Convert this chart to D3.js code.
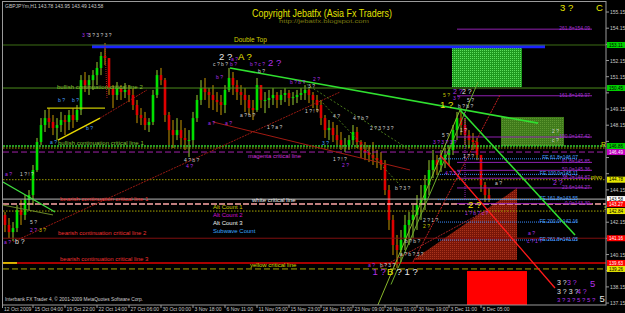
<!DOCTYPE html>
<html>
<head>
<meta charset="utf-8">
<title>GBPJPYm,H1</title>
<script src="https://d3js.org/d3.v7.min.js"></script>
<style>
  body { margin: 0; background: #000; }
  svg { display: block; font-family: "Liberation Sans", Arial, sans-serif; }
</style>
</head>
<body>
<div id="wrapper"></div>
<script>
// ---- price bars (one bar = ~8 hourly candles) ----
const barHigh = [142.78,142.41,142.16,143.21,143.52,143.83,144.14,145.69,147.36,148.59,
149.09,149.21,148.78,148.59,148.97,148.78,149.09,149.21,149.40,151.25,
151.44,151.25,151.56,152.06,152.68,153.23,152.30,150.63,150.82,150.63,
150.76,150.63,150.45,149.71,149.21,148.97,148.59,150.33,151.56,151.69,
151.07,148.97,148.47,148.59,148.47,147.98,147.85,148.97,150.02,150.94,
151.07,150.45,150.63,150.20,150.02,150.63,151.69,151.44,150.94,150.63,
150.45,150.02,149.71,151.07,150.63,150.20,150.33,150.45,150.20,150.33,
150.45,150.33,150.20,150.33,150.45,150.63,150.45,150.20,150.02,149.71,
148.78,148.47,148.35,148.16,147.73,147.36,147.54,148.16,148.04,147.23,
147.11,146.92,147.11,146.62,146.49,145.99,144.45,142.60,141.36,141.67,
142.60,142.78,143.21,143.83,144.45,145.07,145.99,146.62,146.31,146.62,
146.74,146.92,148.16,148.97,149.21,148.59,147.85,147.67,147.36,146.31,
144.64,144.26];
const barLow = [141.54,141.17,140.99,141.54,141.98,142.29,142.90,143.21,145.26,146.92,
147.73,147.98,147.54,147.23,147.73,147.54,147.85,147.98,148.35,148.78,
150.20,150.02,150.33,150.63,151.25,151.87,150.02,149.21,149.71,149.71,
149.83,149.58,149.09,148.28,148.16,147.85,147.73,148.16,149.83,150.63,
148.35,146.92,146.74,147.23,146.92,146.62,146.18,146.92,148.35,149.40,
149.71,149.21,149.09,148.97,148.78,148.90,150.20,150.02,149.71,149.40,
148.97,148.78,148.47,148.97,149.21,148.90,149.21,149.40,149.21,149.40,
149.58,149.34,149.40,149.52,149.71,149.71,149.52,149.21,148.97,148.16,
147.36,147.23,147.11,146.92,146.62,146.49,146.62,146.92,146.74,146.12,
145.99,145.87,145.69,145.50,145.38,143.83,141.67,140.12,139.32,139.69,
140.43,140.74,141.17,141.67,142.29,142.90,143.83,144.88,145.07,145.26,
145.50,145.69,146.31,147.23,147.54,146.92,146.74,146.62,145.99,144.02,
143.40,143.40];
const barClose = [141.98,141.54,141.79,142.90,142.60,143.52,143.83,145.38,147.11,148.16,
148.59,148.35,147.98,148.16,148.47,148.35,148.78,148.47,149.09,150.94,
150.63,150.94,151.25,151.69,152.43,152.30,150.45,150.02,150.45,150.20,
150.33,150.02,149.40,148.78,148.59,148.16,148.35,150.02,151.25,150.94,
148.78,147.85,147.54,147.85,147.36,147.23,147.23,148.59,149.71,150.45,
150.20,150.02,149.71,149.58,149.40,150.33,151.07,150.63,150.20,150.02,
149.71,149.21,149.09,150.63,149.71,149.71,149.83,150.02,149.71,150.02,
150.14,149.83,149.89,150.02,150.14,150.33,150.02,149.71,149.40,148.59,
147.85,147.98,147.54,147.23,146.92,146.92,147.23,147.73,147.11,146.62,
146.49,146.31,146.12,145.99,145.69,144.14,142.29,140.74,140.43,141.05,
141.98,142.29,142.60,143.21,143.52,144.45,145.38,145.99,145.69,145.99,
146.31,146.62,147.85,148.59,148.16,147.54,147.23,147.11,146.31,144.45,
143.83,143.58];
const firstOpen = 142.60;

// ---- axes ----
const timeLabels = ["12 Oct 2009","15 Oct 04:00","19 Oct 22:00","22 Oct 14:00","27 Oct 06:00","30 Oct 00:00",
  "3 Nov 18:00","6 Nov 11:00","11 Nov 05:00","15 Nov 23:00","18 Nov 15:00","23 Nov 09:00",
  "26 Nov 01:00","30 Nov 19:00","3 Dec 11:00","8 Dec 05:00"];
const timeTickBars = [-1,7,15,23,31,39,47,55,63,71,79,87,95,103,111,119];
const priceTicks = [155.15,154.15,153.15,152.15,151.15,150.15,149.15,148.15,147.15,146.15,
  145.15,144.15,143.15,142.15,141.15,140.15,139.15,138.15,137.15];

// ---- horizontal critical levels ----
const levelNames = ["Double Top","bullish continuation critical line 2","bullish continuation critical line 1",
  "magenta critical line","pivo","white critical line","bearish continuation critical line 1","S",
  "bearish continuation critical line 2","bearish continuation critical line 3","yellow critical line"];
const levelPrices = [153.11,150.45,146.86,146.49,144.78,143.58,143.27,142.84,141.16,139.63,139.26];
const resistancePrice = 146.74;
const doubleTopBand = [21.75, 135];

// ---- fibonacci ----
const fibRatios = ["261.8","161.8","100.0","61.8","50.0","38.2","23.6","0.0"];
const fibPrices = [154.09,149.97,147.42,145.85,145.36,144.87,144.27,143.30];
const fibSpan = [113, 146.75];
const feRatios = ["61.8","100.0","161.8","200.0","261.8"];
const fePrices = [146.07,145.11,143.55,142.16,141.05];
const feSpan = [108.25, 143.25];

// ---- zones ----
const greenZone = [111.75, 129.25, 152.99, 150.51];
const oliveZone = [124, 139.75, 148.66, 146.86];
const redZone = [115.5, 130.5, 139.13, 137.03];
const redTriangle = [[102, 139.81], [128, 144.26], [128, 139.81]];

// ---- trend lines [bar, price] ----
const greenTrendTop = [[56.25, 151.69], [133.25, 148.28]];
const greenTrendDown = [[113.75, 149.09], [142.5, 141.36]];
const fanLineA = [[96.5, 138.3], [118.25, 150.82]];
const fanLineB = [[93, 136.9], [113.75, 149.09]];
const redTrend = [[108.75, 146.31], [137.5, 138.08]];
const redDotLong = [[2, 140.93], [83.75, 150.20]];
const redChannel = [[52, 148.35], [101.25, 145.38]];
const yellowRise = [[13.25, 147.23], [23.75, 148.59]];
const redRise = [[23.75, 148.59], [35.5, 150.33]];
const yellowFlat = [[10.5, 149.21], [25, 149.21]];
const peakDrop = [[25, 153.11], [25.5, 149.83]];
const oliveDotA = [[73.75, 150.94], [101.25, 146.62]];
const oliveDotB = [[78.75, 149.71], [98.75, 144.45]];
const redDotUp = [[102, 139.69], [123.75, 150.02]];
const redDotLow = [[93.75, 139.32], [120.5, 142.9]];
const greenLeft = [[-0.5, 144.64], [12.5, 142.78]];
const oliveLeft = [[-0.5, 143.21], [12, 142.6]];
const purpleDrop = [[115, 149.09], [115, 143.52]];
const yellowStub = [[-0.5, 139.63], [3, 139.63]];

// ---- wave count labels [text, bar, price] ----
const whiteSmall = [["1 ? ! ?",3.75,145.0],["5 ?",6.25,142.04],["3 ? 3 ? 3 ?",20.75,153.6],["4 ? b ?",44.75,145.87],
  ["a ? b ?",58.75,148.66],["1 ? a ?",65.5,147.91],["1 ? ! ?",75,148.9],["4 ?",82,148.59],["4 ? b ?",87,148.47],
  ["2 ? 3 ? 3 ?",91.25,147.85],["1 ? ! ?",82,145.93],["c ? b ?",52,151.81],["b ?",63.25,151.38],
  ["3 ?",75.75,150.45],["5 ?",109.25,147.42],["1 ?",113.75,147.73],["1 ? ?",114.5,146.12],["b ? 3 ?",97.5,144.14],
  ["a ?",122.5,144.45],["2 ?",136.75,147.67],["c ?",136.75,147.11],["2 ? 1 ?",104.5,142.16],["b ? b ?",100,140.86],
  ["a ? b ? 3 ?",98.75,140.06],["b ? 3 ?",93.75,139.38],["5 ?",115.5,149.6],["b ? b ?",113.25,149.2]];
const purpleSmall = [["a ?",0,145.0],["2 ?",6.25,141.54],["a ?",-0.25,140.8],["3 ?",19.25,153.6],["4 ?",45.25,145.5],
  ["a ?",50.75,148.16],["a ?",55,148.16],["b ?",56.25,151.81],["b ? c ?",61.25,151.81],["b ?",52.75,151.0],
  ["b ? b ?",71.25,150.7],["2 ?",84.25,145.57],["3 ? 3 ? 3 ?",107,146.99],["4 ? 3 ?",110,145.07],["3 ?",112,149.71],
  ["1 ? b ? c ?",115,142.6],["a ?",90.75,139.38],["a ?",130.75,141.36],["c ? 1 ?",130.5,140.86],["2 ?",77,150.88],
  ["a ?",56.5,152.12]];
const cyanSmall = [["b ?",13.25,149.58],["b ?",16.75,149.58],["b ?",20.25,147.85],["a ?",11.25,146.99],["3 ?",79.25,146.92]];
const yellowSmall = [["3 ?",8.5,141.54],["5 ?",109.5,149.88],["2 ?",104.5,141.79]];
const whiteMid = [["b ?",2.5,140.8],["2 ?",114.25,150.08],["3 ?",138,138.27],["3 ? 3 ?",138,137.71]];
const purpleMid = [["2 ?",112,150.08],["2 ?",137,144.45],["3 ?",140.5,138.27],["4 ?",143,137.71]];
const purpleRow = [["3 ? 3 ? 5 ? 5 ?",138,137.22]];
const whiteBig = [["2 ?",53.5,152.18],["? 1 ?",97.9,138.88],["5",148.6,137.22]];
const purpleBig = [["2 ?",65.75,151.81],["1 ?",91.9,138.88],["5",146.25,138.15]];
const yellowBig = [["A ?",58.25,152.18],["1 ?",108.75,149.21],["2 ?",115.75,143.03],["B",95.5,138.88],["3 ?",138.75,155.2],["C",147.75,155.2]];

const legendNames = ["Alt Count 1","Alt Count 2","Alt Count 3","Subwave Count"];
const legendColors = ["#c8c800","#d010d0","#f0f0f0","#3aa8ff"];

// ---- drawing ----
const width = 625, height = 313;
const svg = d3.select("#wrapper").append("svg").attr("width", width).attr("height", height);
svg.append("rect").attr("width", width).attr("height", height).attr("fill", "#000");

const xScale = d3.scaleLinear().domain([-0.5, 150]).range([3, 605]);
const yScale = d3.scaleLinear().domain([137.03, 155.77]).range([305, 2]);
const X = b => xScale(b), Y = p => yScale(p);

const defs = svg.append("defs");
defs.append("clipPath").attr("id", "plotclip").append("rect")
  .attr("x", 3).attr("y", 2).attr("width", 603).attr("height", 303);
function dotPattern(id, bg, dot) {
  const p = defs.append("pattern").attr("id", id).attr("width", 2).attr("height", 2)
    .attr("patternUnits", "userSpaceOnUse");
  p.append("rect").attr("width", 2).attr("height", 2).attr("fill", bg);
  p.append("rect").attr("width", 1).attr("height", 1).attr("fill", dot);
}
dotPattern("greenDots", "#1e9a1e", "#5ee05e");
dotPattern("oliveDots", "#3f7a1a", "#5c9630");
dotPattern("redDots", "#7a1608", "#a8341c");

const plot = svg.append("g").attr("clip-path", "url(#plotclip)");

// zones
function zone(z, fill) {
  plot.append("rect").attr("x", X(z[0])).attr("y", Y(z[2]))
    .attr("width", X(z[1]) - X(z[0])).attr("height", Y(z[3]) - Y(z[2])).attr("fill", fill);
}
zone(greenZone, "url(#greenDots)");
zone(oliveZone, "url(#oliveDots)");
zone(redZone, "#ff0000");
plot.append("path").attr("d", d3.line().x(d => X(d[0])).y(d => Y(d[1]))(redTriangle) + "Z")
  .attr("fill", "url(#redDots)");

// candles
const candles = plot.append("g");
barClose.forEach((c, i) => {
  const o = i === 0 ? firstOpen : barClose[i - 1];
  const up = c >= o;
  const col = up ? "#00e000" : "#e00000";
  candles.append("line").attr("x1", X(i)).attr("x2", X(i))
    .attr("y1", Y(barHigh[i])).attr("y2", Y(barLow[i]))
    .attr("stroke", up ? "#9acd32" : "#c89600").attr("stroke-width", 1);
  candles.append("rect").attr("x", X(i) - 1.3).attr("width", 2.6)
    .attr("y", Y(Math.max(o, c))).attr("height", Math.max(1, Math.abs(Y(o) - Y(c))))
    .attr("fill", col);
});

// horizontal levels
const levelStyle = [
  {stroke: "#3c6e14", w: 1, dash: null, text: "#d0d000", tx: 57.25, dy: -3},
  {stroke: "#4c8c1c", w: 1, dash: null, text: "#86c030", tx: 13, dy: 1},
  {stroke: "#30d030", w: 1.5, dash: "2,1", text: "#80c030", tx: 13.25, dy: -1.5},
  {stroke: "#a020a8", w: 1, dash: "6,3", text: "#d030d8", tx: 60.75, dy: 6},
  {stroke: "#9a9a00", w: 1, dash: "1.5,1.5", text: "#e0e000", tx: 146.5, dy: -1},
  {stroke: "#b8b8b8", w: 1, dash: null, text: "#f0f0f0", tx: 61.75, dy: 2.5},
  {stroke: "#ffa8a8", w: 1.5, dash: "6,2", text: "#f03030", tx: 13.75, dy: -3},
  {stroke: "#a8a800", w: 1, dash: "1.5,1.5", text: "#e0e000", tx: 149.75, dy: -1},
  {stroke: "#801010", w: 1, dash: null, text: "#f03030", tx: 13.25, dy: -3},
  {stroke: "#e00000", w: 1.5, dash: null, text: "#f03030", tx: 13.75, dy: -2},
  {stroke: "#a8a800", w: 1, dash: "6,3", text: "#d8d800", tx: 61.25, dy: -2}
];
const boxFill = ["#00d000","#00d000","#00d000","#c000c0","#e8e800","#ffffff","#ff0000","#e8e800","#ff0000","#ff0000","#e8e800"];
const boxText = ["#000","#000","#000","#fff","#000","#000","#fff","#000","#fff","#fff","#000"];

// blue double top band
plot.append("line").attr("x1", X(doubleTopBand[0])).attr("x2", X(doubleTopBand[1]))
  .attr("y1", Y(levelPrices[0]) + 1.5).attr("y2", Y(levelPrices[0]) + 1.5)
  .attr("stroke", "#1a22ff").attr("stroke-width", 3.5);

levelPrices.forEach((p, i) => {
  const s = levelStyle[i];
  plot.append("line").attr("x1", 3).attr("x2", 606).attr("y1", Y(p)).attr("y2", Y(p))
    .attr("stroke", s.stroke).attr("stroke-width", s.w).attr("stroke-dasharray", s.dash);
});
plot.append("line").attr("x1", 3).attr("x2", 606).attr("y1", Y(resistancePrice)).attr("y2", Y(resistancePrice))
  .attr("stroke", "#b0a000").attr("stroke-width", 1).attr("stroke-dasharray", "1.5,1.5");

// fibo lines
fibPrices.forEach((p, i) => {
  plot.append("line").attr("x1", X(fibSpan[0])).attr("x2", X(fibSpan[1])).attr("y1", Y(p)).attr("y2", Y(p))
    .attr("stroke", "#9020b0").attr("stroke-width", 1);
  plot.append("text").attr("x", X(fibSpan[1]) - 2).attr("y", Y(p) + 1).attr("text-anchor", "end")
    .attr("font-size", 5).attr("fill", "#a030d0").text(fibRatios[i] + "=" + p.toFixed(2));
});
fePrices.forEach((p, i) => {
  plot.append("line").attr("x1", X(feSpan[0])).attr("x2", X(feSpan[1])).attr("y1", Y(p)).attr("y2", Y(p))
    .attr("stroke", "#3a8cff").attr("stroke-width", 1).attr("stroke-dasharray", "1,1");
  plot.append("text").attr("x", X(feSpan[1])).attr("y", Y(p) + 0.5).attr("text-anchor", "end")
    .attr("font-size", 5).attr("fill", "#4aa0ff").text("FE " + feRatios[i] + "=" + p.toFixed(2));
});

// trend lines
const seg = (pts, color, w, dash) => plot.append("line")
  .attr("x1", X(pts[0][0])).attr("y1", Y(pts[0][1])).attr("x2", X(pts[1][0])).attr("y2", Y(pts[1][1]))
  .attr("stroke", color).attr("stroke-width", w).attr("stroke-dasharray", dash || null);
seg(redDotLong, "#9a1a12", 1, "2,1");
seg(redChannel, "#a01a12", 1);
seg(oliveDotA, "#4a7a1a", 1, "2,2");
seg(oliveDotB, "#4a7a1a", 1, "2,2");
seg(redRise, "#a01a12", 1, "2,1");
seg(peakDrop, "#c02020", 1, "1,1");
seg(yellowFlat, "#c8c800", 1.2);
seg(yellowRise, "#e8d800", 1.5);
seg(greenLeft, "#40e040", 1.2);
seg(oliveLeft, "#6a8a2a", 1);
seg(yellowStub, "#e8e800", 1.5);
seg(fanLineA, "#6aa82a", 1);
seg(fanLineB, "#8ab82a", 1);
seg(redDotUp, "#c02020", 1, "2,1");
seg(redDotLow, "#a02020", 1, "2,1");
seg(purpleDrop, "#9020b0", 1, "1,1");
seg(greenTrendTop, "#30e030", 1.6);
seg(greenTrendDown, "#30e030", 1.6);
seg(redTrend, "#ff1a1a", 1.3);

// level labels
levelNames.forEach((n, i) => {
  const s = levelStyle[i];
  plot.append("text").attr("x", X(s.tx)).attr("y", Y(levelPrices[i]) + s.dy)
    .attr("font-size", i === 0 ? 6.5 : 6).attr("fill", s.text).text(n);
});
plot.append("text").attr("x", 601).attr("y", Y(resistancePrice) - 1.5).attr("font-size", 7).attr("fill", "#d8d800").text("R");

// wave labels
function labels(list, color, size) {
  list.forEach(d => plot.append("text").attr("x", X(d[1])).attr("y", Y(d[2]))
    .attr("font-size", size).attr("fill", color).text(d[0]));
}
labels(whiteSmall, "#d0d0d0", 5);
labels(purpleSmall, "#b030e8", 5);
labels(cyanSmall, "#4aa0ff", 5);
labels(yellowSmall, "#c8c800", 5);
labels(whiteMid, "#e0e0e0", 7);
labels(purpleMid, "#b030e8", 7);
labels(purpleRow, "#b030e8", 6);
labels(whiteBig, "#e8e8e8", 9.5);
labels(purpleBig, "#b030e8", 9.5);
labels(yellowBig, "#e8e800", 9.5);

// legend
legendNames.forEach((n, i) => {
  svg.append("text").attr("x", 213).attr("y", 209 + i * 8).attr("font-size", 6)
    .attr("fill", legendColors[i]).text(n);
});

// titles
svg.append("text").attr("x", 5).attr("y", 8).attr("font-size", 5).attr("fill", "#c8c8c8")
  .text("GBPJPYm,H1  143.78 143.95 143.49 143.58");
svg.append("text").attr("x", 252).attr("y", 17).attr("font-size", 10).attr("fill", "#e0e000")
  .attr("textLength", 140).attr("lengthAdjust", "spacingAndGlyphs").text("Copyright Jebatfx (Asia Fx Traders)");
svg.append("text").attr("x", 279).attr("y", 23).attr("font-size", 4.5).attr("fill", "#7a7a10")
  .attr("textLength", 90).attr("lengthAdjust", "spacingAndGlyphs").text("http://jebatfx.blogspot.com");
svg.append("text").attr("x", 5).attr("y", 301).attr("font-size", 4.8).attr("fill", "#d0d0d0")
  .text("Interbank FX Trader 4, \u00a9 2001-2009 MetaQuotes Software Corp.");

// frame
svg.append("rect").attr("x", 2.5).attr("y", 1.5).attr("width", 603.5).attr("height", 303.5)
  .attr("fill", "none").attr("stroke", "#9a9a9a").attr("stroke-width", 1);

// price axis: tick labels hidden where a level box covers them
const yAxis = svg.append("g");
priceTicks.forEach(p => {
  yAxis.append("line").attr("x1", 606).attr("x2", 609).attr("y1", Y(p)).attr("y2", Y(p)).attr("stroke", "#9a9a9a");
  const covered = levelPrices.some(l => Math.abs(Y(l) - Y(p)) < 6);
  if (!covered) {
    yAxis.append("text").attr("x", 610).attr("y", Y(p) + 2).attr("font-size", 5).attr("fill", "#c8c8c8").text(p.toFixed(2));
  }
});
levelPrices.forEach((p, i) => {
  yAxis.append("rect").attr("x", 607).attr("y", Y(p) - 3).attr("width", 18).attr("height", 6).attr("fill", boxFill[i]);
  yAxis.append("text").attr("x", 609).attr("y", Y(p) + 1.8).attr("font-size", 4.6).attr("fill", boxText[i]).text(p.toFixed(2));
});

// time axis
const xAxis = svg.append("g");
timeTickBars.forEach((b, i) => {
  const tx = Math.max(2.5, X(b));
  xAxis.append("line").attr("x1", tx).attr("x2", tx).attr("y1", 305).attr("y2", 308).attr("stroke", "#9a9a9a");
  xAxis.append("text").attr("x", tx + 1.5).attr("y", 311).attr("font-size", 5).attr("fill", "#c8c8c8").text(timeLabels[i]);
});
</script>
</body>
</html>
